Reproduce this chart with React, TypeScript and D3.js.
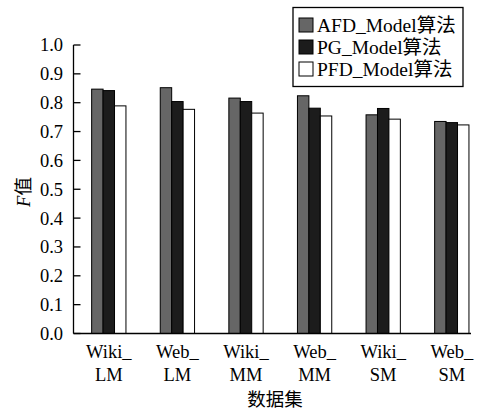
import React from "react";
import * as d3 from "d3";

const categories = ["Wiki_|LM", "Web_|LM", "Wiki_|MM", "Web_|MM", "Wiki_|SM", "Web_|SM"];
const seriesNames = ["AFD_Model算法", "PG_Model算法", "PFD_Model算法"];
const afdValues = [0.847, 0.852, 0.816, 0.824, 0.758, 0.735];
const pgValues = [0.842, 0.804, 0.804, 0.781, 0.780, 0.731];
const pfdValues = [0.789, 0.777, 0.764, 0.754, 0.743, 0.723];
const yTicks = [0, 0.1, 0.2, 0.3, 0.4, 0.5, 0.6, 0.7, 0.8, 0.9, 1.0];
const colors = ["#666666", "#1c1c1c", "#ffffff"];

const W = 478, H = 413;
const axisX = 73.5, axisEnd = 471;
const y0 = 333.5, y1 = 45;
const FONT = "'Liberation Serif', 'Times New Roman', 'Noto Sans CJK SC', serif";

export default function App() {
  const series = [afdValues, pgValues, pfdValues];
  const y = d3.scaleLinear().domain([0, 1]).range([y0, y1]);
  const x = d3.scaleBand<string>().domain(categories).range([74.5, 74.5 + 6 * 68.6]).paddingInner(0.5).paddingOuter(0.25);
  const xs = d3.scaleBand<number>().domain([0, 1, 2]).range([0, x.bandwidth()]);

  return (
    <svg width={W} height={H} style={{ position: "absolute", left: 0, top: 0, background: "#fff" }} fontFamily={FONT}>
      {categories.map((c, ci) =>
        series.map((vals, si) => (
          <rect key={c + si}
            x={(x(c) as number) + (xs(si) as number)}
            y={y(vals[ci])}
            width={xs.bandwidth()}
            height={y0 - y(vals[ci])}
            fill={colors[si]} stroke="#000" strokeWidth={1} />
        ))
      )}
      <line x1={axisX} x2={axisX} y1={y1} y2={y0} stroke="#000" strokeWidth={1.3} />
      <line x1={axisX} x2={axisEnd} y1={y0} y2={y0} stroke="#000" strokeWidth={1.3} />
      {yTicks.map(t => (
        <g key={t}>
          <line x1={axisX} x2={axisX + 7} y1={y(t)} y2={y(t)} stroke="#000" strokeWidth={1.3} />
          <text x={63} y={y(t)} dy="0.35em" textAnchor="end" fontSize={18.5}>{t.toFixed(1)}</text>
        </g>
      ))}
      {categories.map(c => {
        const [a, b] = c.split("|");
        const cx = (x(c) as number) + x.bandwidth() / 2;
        return (
          <g key={c}>
            <text x={cx} y={352} dy="0.35em" textAnchor="middle" fontSize={18.5}>{a}</text>
            <text x={cx} y={375} dy="0.35em" textAnchor="middle" fontSize={18.5}>{b}</text>
          </g>
        );
      })}
      <text transform={`translate(24,192) rotate(-90)`} textAnchor="middle" dy="0.35em" fontSize={18.5}>
        <tspan fontStyle="italic">F</tspan><tspan>值</tspan>
      </text>
      <text x={275} y={400} dy="0.35em" textAnchor="middle" fontSize={18.5}>数据集</text>
      <rect x={293} y={7.5} width={170} height={79} fill="#fff" stroke="#000" strokeWidth={1.3} />
      {seriesNames.map((n, i) => (
        <g key={n}>
          <rect x={299} y={18 + i * 22} width={14} height={14} fill={colors[i]} stroke="#000" strokeWidth={1} />
          <text x={317} y={25 + i * 22} dy="0.35em" fontSize={19.5}>{n}</text>
        </g>
      ))}
    </svg>
  );
}
